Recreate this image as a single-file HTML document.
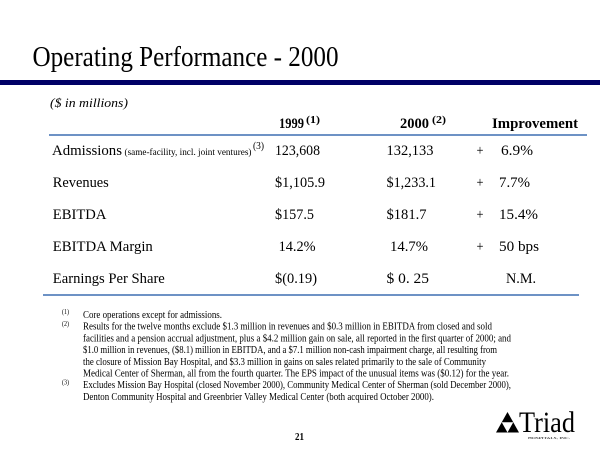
<!DOCTYPE html>
<html>
<head>
<meta charset="utf-8">
<style>
  html, body { margin: 0; padding: 0; background: #ffffff; }
  svg { display: block; }
  text { font-family: "Liberation Serif", "Times New Roman", serif; fill: #000; }
</style>
</head>
<body>
<svg width="600" height="450" viewBox="0 0 600 450" xmlns="http://www.w3.org/2000/svg">
  <rect x="0" y="0" width="600" height="450" fill="#ffffff"/>

  <!-- Title -->
  <text x="32.5" y="66" font-size="28" textLength="306" lengthAdjust="spacingAndGlyphs">Operating Performance - 2000</text>
  <rect x="0" y="80" width="600" height="5" fill="#000066"/>

  <!-- units -->
  <text x="50" y="107" font-size="13" font-style="italic" textLength="78" lengthAdjust="spacingAndGlyphs">($ in millions)</text>

  <!-- Header -->
  <text x="279" y="128" font-size="15" font-weight="bold" textLength="25" lengthAdjust="spacingAndGlyphs">1999</text>
  <text x="306" y="123" font-size="10" font-weight="bold" textLength="14" lengthAdjust="spacingAndGlyphs">(1)</text>
  <text x="400" y="128" font-size="15" font-weight="bold" textLength="29" lengthAdjust="spacingAndGlyphs">2000</text>
  <text x="432" y="123" font-size="10" font-weight="bold" textLength="14" lengthAdjust="spacingAndGlyphs">(2)</text>
  <text x="492" y="128" font-size="15" font-weight="bold" textLength="86" lengthAdjust="spacingAndGlyphs">Improvement</text>

  <line x1="49" y1="135" x2="587" y2="135" stroke="#3d6fb2" stroke-width="1.5"/>

  <!-- Row: Admissions -->
  <text x="52" y="155" font-size="15" textLength="70" lengthAdjust="spacingAndGlyphs">Admissions</text>
  <text x="124.5" y="155" font-size="9" textLength="127" lengthAdjust="spacingAndGlyphs">(same-facility, incl. joint ventures)</text>
  <text x="253" y="149" font-size="10" textLength="11" lengthAdjust="spacingAndGlyphs">(3)</text>
  <text x="275" y="155" font-size="15" textLength="45" lengthAdjust="spacingAndGlyphs">123,608</text>
  <text x="386.5" y="155" font-size="15" textLength="47" lengthAdjust="spacingAndGlyphs">132,133</text>
  <text x="476.5" y="155" font-size="15" textLength="7" lengthAdjust="spacingAndGlyphs">+</text>
  <text x="501" y="155" font-size="15" textLength="32" lengthAdjust="spacingAndGlyphs">6.9%</text>

  <!-- Row: Revenues -->
  <text x="52.8" y="187" font-size="15" textLength="56" lengthAdjust="spacingAndGlyphs">Revenues</text>
  <text x="275" y="187" font-size="15" textLength="50" lengthAdjust="spacingAndGlyphs">$1,105.9</text>
  <text x="386.5" y="187" font-size="15" textLength="49.5" lengthAdjust="spacingAndGlyphs">$1,233.1</text>
  <text x="476.5" y="187" font-size="15" textLength="7" lengthAdjust="spacingAndGlyphs">+</text>
  <text x="499" y="187" font-size="15" textLength="31" lengthAdjust="spacingAndGlyphs">7.7%</text>

  <!-- Row: EBITDA -->
  <text x="52.8" y="219" font-size="15" textLength="53.6" lengthAdjust="spacingAndGlyphs">EBITDA</text>
  <text x="275" y="219" font-size="15" textLength="39" lengthAdjust="spacingAndGlyphs">$157.5</text>
  <text x="386.5" y="219" font-size="15" textLength="40" lengthAdjust="spacingAndGlyphs">$181.7</text>
  <text x="476.5" y="219" font-size="15" textLength="7" lengthAdjust="spacingAndGlyphs">+</text>
  <text x="499" y="219" font-size="15" textLength="39" lengthAdjust="spacingAndGlyphs">15.4%</text>

  <!-- Row: EBITDA Margin -->
  <text x="52.8" y="251" font-size="15" textLength="100" lengthAdjust="spacingAndGlyphs">EBITDA Margin</text>
  <text x="278.6" y="251" font-size="15" textLength="37" lengthAdjust="spacingAndGlyphs">14.2%</text>
  <text x="390" y="251" font-size="15" textLength="38" lengthAdjust="spacingAndGlyphs">14.7%</text>
  <text x="476.5" y="251" font-size="15" textLength="7" lengthAdjust="spacingAndGlyphs">+</text>
  <text x="499" y="251" font-size="15" textLength="40" lengthAdjust="spacingAndGlyphs">50 bps</text>

  <!-- Row: EPS -->
  <text x="52.8" y="283" font-size="15" textLength="112" lengthAdjust="spacingAndGlyphs">Earnings Per Share</text>
  <text x="275" y="283" font-size="15" textLength="42" lengthAdjust="spacingAndGlyphs">$(0.19)</text>
  <text x="386.5" y="283" font-size="15" textLength="42.5" lengthAdjust="spacingAndGlyphs">$  0. 25</text>
  <text x="506" y="283" font-size="15" textLength="30" lengthAdjust="spacingAndGlyphs">N.M.</text>

  <line x1="43" y1="295" x2="579" y2="295" stroke="#3d6fb2" stroke-width="1.5"/>

  <!-- Footnotes -->
  <g font-size="10">
    <text x="62" y="314" font-size="7" textLength="7" lengthAdjust="spacingAndGlyphs">(1)</text>
    <text x="83" y="318" textLength="139" lengthAdjust="spacingAndGlyphs">Core operations except for admissions.</text>
    <text x="62" y="326" font-size="7" textLength="7" lengthAdjust="spacingAndGlyphs">(2)</text>
    <text x="83" y="329.7" textLength="409" lengthAdjust="spacingAndGlyphs">Results for the twelve months exclude $1.3 million in revenues and $0.3 million in EBITDA from closed and sold</text>
    <text x="83" y="341.4" textLength="428" lengthAdjust="spacingAndGlyphs">facilities and a pension accrual adjustment, plus a $4.2 million gain on sale, all reported in the first quarter of 2000; and</text>
    <text x="83" y="353.1" textLength="414" lengthAdjust="spacingAndGlyphs">$1.0 million in revenues, ($8.1) million in EBITDA, and a $7.1 million non-cash impairment charge, all resulting from</text>
    <text x="83" y="364.8" textLength="403" lengthAdjust="spacingAndGlyphs">the closure of Mission Bay Hospital, and $3.3 million in gains on sales related primarily to the sale of Community</text>
    <text x="83" y="376.5" textLength="426" lengthAdjust="spacingAndGlyphs">Medical Center of Sherman, all from the fourth quarter.  The EPS impact of the unusual items was ($0.12) for the year.</text>
    <text x="62" y="384.5" font-size="7" textLength="7" lengthAdjust="spacingAndGlyphs">(3)</text>
    <text x="83" y="388.2" textLength="428" lengthAdjust="spacingAndGlyphs">Excludes Mission Bay Hospital (closed November 2000), Community Medical Center of Sherman (sold December 2000),</text>
    <text x="83" y="399.9" textLength="351" lengthAdjust="spacingAndGlyphs">Denton Community Hospital and Greenbrier Valley Medical Center (both acquired October 2000).</text>
  </g>

  <!-- Page number -->
  <text x="295" y="440" font-size="11" font-weight="bold" textLength="9" lengthAdjust="spacingAndGlyphs">21</text>

  <!-- Logo -->
  <polygon points="507.5,412 496,432.5 519,432.5" fill="#000"/>
  <polygon points="501.75,422.25 513.25,422.25 507.5,432.5" fill="#fff"/>
  <text x="519" y="432" font-size="30" textLength="56" lengthAdjust="spacingAndGlyphs">Triad</text>
  <text x="528" y="439" font-size="3.5" fill="#555" textLength="42" lengthAdjust="spacingAndGlyphs">HOSPITALS, INC.</text>
</svg>
</body>
</html>
